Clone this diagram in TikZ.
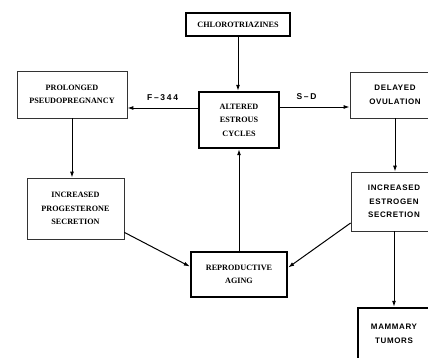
\documentclass[tikz,border=0pt]{standalone}
\usepackage{fontspec}
\setmainfont{Liberation Serif}
\setsansfont{Liberation Sans}
\usetikzlibrary{arrows.meta,positioning}

\begin{document}
\begin{tikzpicture}[x=1bp,y=-1bp,>={Latex[length=6bp,width=4bp]},
  thinbox/.style={draw=black!80,line width=0.8bp,align=center,inner sep=0pt,
    font=\fontsize{8.2}{13.5}\selectfont\bfseries},
  thickbox/.style={thinbox,draw=black,line width=2.4bp},
  sansbox/.style={font=\fontsize{8}{13.5}\sffamily\bfseries\addfontfeature{LetterSpace=8}},
  arr/.style={->,line width=1bp},
  lbl/.style={above=5bp,inner sep=2bp,
    font=\fontsize{8.5}{10}\sffamily\bfseries\addfontfeature{LetterSpace=20}}]
  \useasboundingbox (0,0) rectangle (428,358);
  \clip (0,0) rectangle (428,358);
  % boxes
  \node[thickbox,minimum width=104bp,minimum height=23bp] (chloro) at (238,24.5) {CHLOROTRIAZINES};
  \node[thickbox,minimum width=80bp,minimum height=56bp] (altered) at (239,120) {ALTERED\\ESTROUS\\CYCLES};
  \node[thinbox,minimum width=110bp,minimum height=47bp] (prolonged) at (72,94.5) {PROLONGED\\PSEUDOPREGNANCY};
  \node[thinbox,sansbox,minimum width=90bp,minimum height=46bp] (delayed) at (395,95) {DELAYED\\OVULATION};
  \node[thinbox,minimum width=97bp,minimum height=61bp] (progest) at (75.5,208.5) {INCREASED\\PROGESTERONE\\SECRETION};
  \node[thinbox,sansbox,minimum width=86bp,minimum height=59bp] (estrogen) at (394,201.5) {INCREASED\\ESTROGEN\\SECRETION};
  \node[thickbox,minimum width=96bp,minimum height=45bp] (aging) at (239,274.5) {REPRODUCTIVE\\AGING};
  \node[thickbox,sansbox,minimum width=72bp,minimum height=52bp] (mammary) at (394,334) {MAMMARY\\TUMORS};
  % strain-specific branches
  \coordinate (f344) at ([yshift=12bp]altered.west);
  \coordinate (sd) at ([yshift=13bp]altered.east);
  \draw[arr] (f344) -- node[lbl]{F--344} (prolonged.east |- f344);
  \draw[arr] (sd) -- node[lbl,pos=0.38]{S--D} (delayed.west |- sd);
  % arrows
  \draw[arr] (chloro.south) -- (chloro.south |- altered.north);
  \draw[arr] (prolonged.south) -- (prolonged.south |- progest.north);
  \draw[arr] (delayed.south) -- (delayed.south |- estrogen.north);
  \draw[arr] (estrogen.south) -- (estrogen.south |- mammary.north);
  \draw[arr] ([yshift=7bp]progest.south east) -- ([yshift=8bp]aging.west);
  \draw[arr] ([yshift=-21.5bp]estrogen.west) -- ([yshift=7bp]aging.east);
  \draw[arr] (aging.north) -- (altered.south);
\end{tikzpicture}
\end{document}
